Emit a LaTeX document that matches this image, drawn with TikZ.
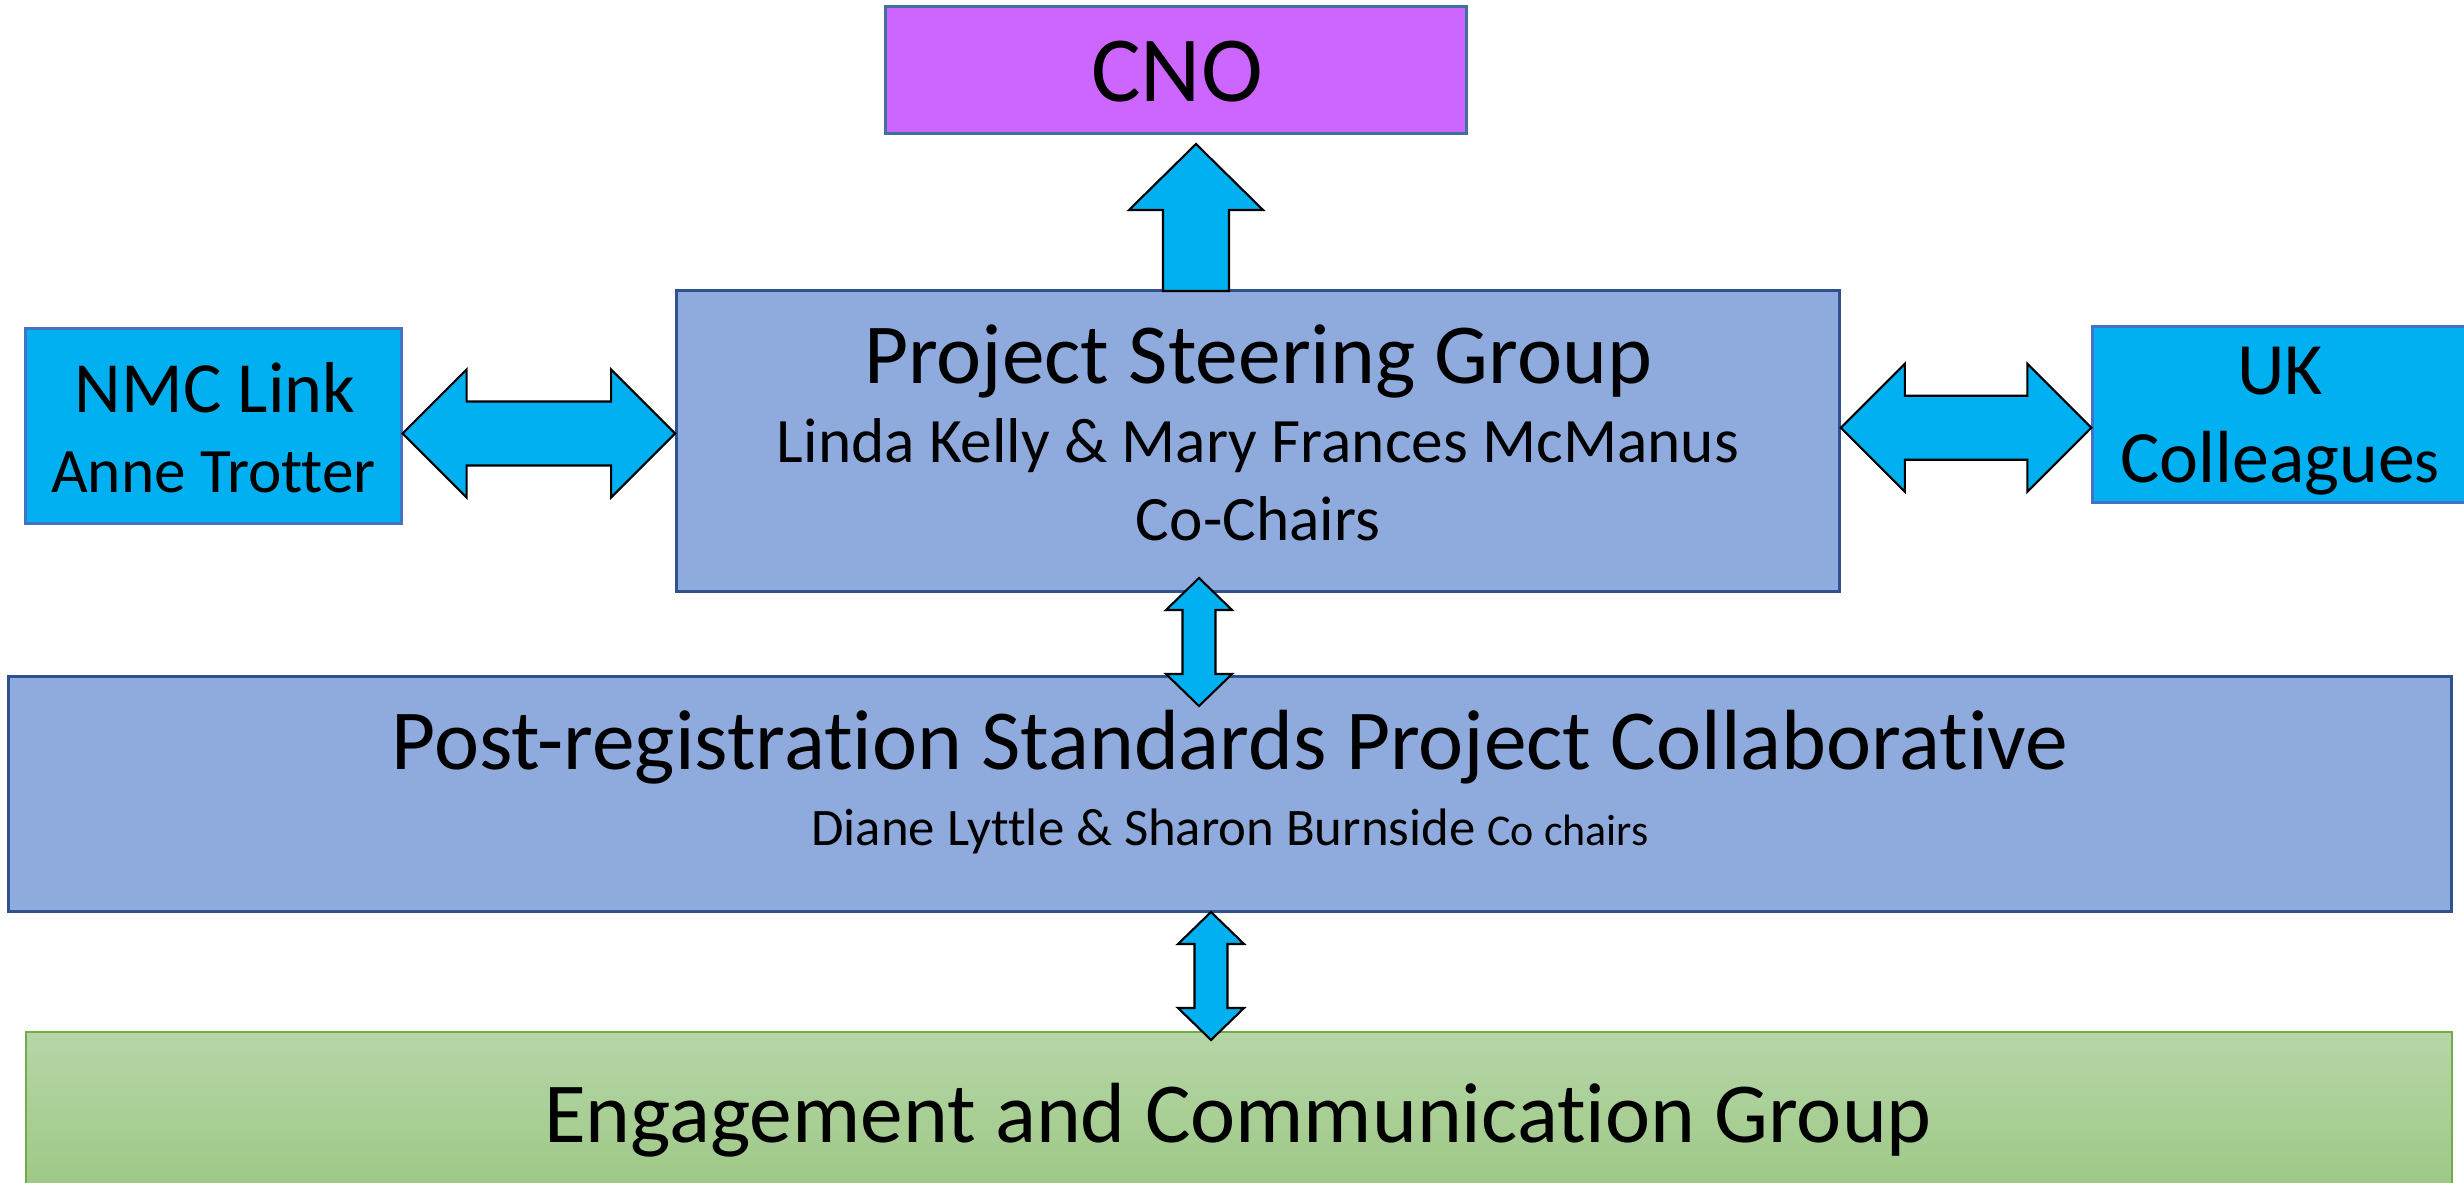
\documentclass[tikz,border=0pt]{standalone}
\usepackage{fontspec}
\setmainfont{Carlito}[RawFeature={-liga;-clig;-calt;-rlig;-dlig}]
\usepackage{tikz}
\usetikzlibrary{calc}

\definecolor{steerblue}{HTML}{8FAADC}
\definecolor{edgeblue}{HTML}{2F528F}
\definecolor{linkcyan}{HTML}{00B0F0}
\definecolor{linkedge}{HTML}{4472C4}
\definecolor{cnopurple}{HTML}{CC66FF}
\definecolor{cnoedge}{HTML}{41719C}
\definecolor{greentop}{HTML}{B6D6A7}
\definecolor{greenbot}{HTML}{96C47B}
\definecolor{greenedge}{HTML}{70AD47}

% block arrows: horizontal two-headed, vertical two-headed
\newcommand{\hbiarrow}[2]{%
  \path[blockarrow] let \p1=(#1), \p2=(#2), \p3=($(#1)!0.5!(#2)$) in
    (\x1,\y3) -- (\x1+0.64cm,\y3+0.64cm) -- (\x1+0.64cm,\y3+0.32cm) -- (\x2-0.64cm,\y3+0.32cm)
    -- (\x2-0.64cm,\y3+0.64cm) -- (\x2,\y3) -- (\x2-0.64cm,\y3-0.64cm) -- (\x2-0.64cm,\y3-0.32cm)
    -- (\x1+0.64cm,\y3-0.32cm) -- (\x1+0.64cm,\y3-0.64cm) -- cycle;}
\newcommand{\vbiarrow}[2]{%
  \path[blockarrow] let \p1=(#1), \p2=(#2) in
    (\x1,\y1) -- (\x1+0.33cm,\y1-0.32cm) -- (\x1+0.165cm,\y1-0.32cm) -- (\x1+0.165cm,\y2+0.32cm)
    -- (\x1+0.33cm,\y2+0.32cm) -- (\x1,\y2) -- (\x1-0.33cm,\y2+0.32cm) -- (\x1-0.165cm,\y2+0.32cm)
    -- (\x1-0.165cm,\y1-0.32cm) -- (\x1-0.33cm,\y1-0.32cm) -- cycle;}

\begin{document}
\begin{tikzpicture}[x=0.01cm,y=-0.01cm,
  box/.style={draw=edgeblue,line width=0.85pt,fill=steerblue,inner sep=0pt},
  linkbox/.style={draw=linkedge,line width=0.85pt,fill=linkcyan,inner sep=0pt},
  blockarrow/.style={draw=black,line width=0.6pt,fill=linkcyan,line join=miter},
  big/.style={anchor=base,inner sep=0pt,font=\fontsize{24.3}{29}\selectfont},
  small/.style={anchor=base,inner sep=0pt,font=\fontsize{18}{22}\selectfont}]

  \useasboundingbox (0,0) rectangle (2464,1183);

  % boxes
  \draw (1176,70) node[box,fill=cnopurple,draw=cnoedge,minimum width=5.8cm,minimum height=1.26cm] (cno) {};
  \draw (1258,441) node[box,minimum width=11.62cm,minimum height=3cm] (steer) {};
  \draw (1230,794) node[box,minimum width=24.42cm,minimum height=2.34cm] (collab) {};
  \draw (213.5,426) node[linkbox,minimum width=3.75cm,minimum height=1.94cm] (nmc) {};
  \draw (2280,414.5) node[linkbox,minimum width=3.74cm,minimum height=1.75cm] (uk) {};
  \draw (1239,1136) node[draw=greenedge,line width=0.5pt,top color=greentop,bottom color=greenbot,
     inner sep=0pt,minimum width=24.24cm,minimum height=2.08cm] (engage) {};

  % texts
  \draw (1177,102) node[anchor=base,inner sep=0pt,font=\fontsize{26.5}{32}\selectfont] (cnottl) {CNO};
  \draw (1258,384) node[big] (steerttl) {Project Steering Group};
  \draw (1258,463) node[small] (steerchairs) {Linda Kelly \& Mary Frances McManus};
  \draw (1258,541) node[small] (steerco) {Co-Chairs};
  \draw (1230,770) node[big] (collabttl) {Post-registration Standards Project Collaborative};
  \draw (1230,846) node[anchor=base,inner sep=0pt,font=\fontsize{15}{18}\selectfont] (collabchairs) {Diane Lyttle \& Sharon Burnside {\fontsize{12.5}{15}\selectfont Co chairs}};
  \draw (215,413) node[anchor=base,inner sep=0pt,font=\fontsize{20.5}{25}\selectfont] (nmcttl) {NMC Link};
  \draw (213.5,493) node[small] (nmcname) {Anne Trotter};
  \draw (2280,395) node[anchor=base,inner sep=0pt,font=\fontsize{21}{25}\selectfont] (ukttl) {UK};
  \draw (2280,483) node[anchor=base,inner sep=0pt,font=\fontsize{21}{25}\selectfont] (ukname) {Colleague{\fontsize{18}{22}\selectfont s}};
  \draw (1238,1142) node[big] (engagettl) {Engagement and Communication Group};

  % arrow ends
  \coordinate (cnotip) at (1196,144);
  \coordinate (steerfoot) at (1196,291);
  \coordinate (steerlow) at (1199,578);
  \coordinate (collabhigh) at (1199,706);
  \coordinate (collablow) at (1211,912);
  \coordinate (engagehigh) at (1211,1040);

  % arrows
  \path[blockarrow] let \p1=(steerfoot), \p2=(cnotip) in
    (\x1-0.33cm,\y1) -- (\x1-0.33cm,\y2-0.66cm) -- (\x1-0.67cm,\y2-0.66cm) -- (\x2,\y2)
    -- (\x1+0.67cm,\y2-0.66cm) -- (\x1+0.33cm,\y2-0.66cm) -- (\x1+0.33cm,\y1) -- cycle;
  \hbiarrow{nmc.east}{steer.west}
  \hbiarrow{steer.east}{uk.west}
  \vbiarrow{steerlow}{collabhigh}
  \vbiarrow{collablow}{engagehigh}
\end{tikzpicture}
\end{document}
